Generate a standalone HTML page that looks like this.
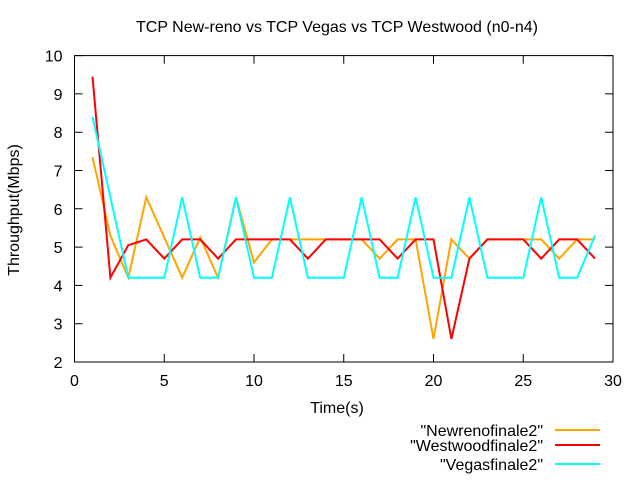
<!DOCTYPE html>
<html><head><meta charset="utf-8"><style>
body{margin:0;background:#fff}
svg{font-family:"Liberation Sans",sans-serif;font-size:16px}
</style></head><body>
<svg id="c" width="640" height="480">
<text x="337" y="32" text-anchor="middle">TCP New-reno vs TCP Vegas vs TCP Westwood (n0-n4)</text>
<text transform="translate(19,210) rotate(-90)" text-anchor="middle">Throughput(Mbps)</text>
<text x="337" y="413" text-anchor="middle">Time(s)</text>
<g id="axes"></g>
<g id="series"></g>
<g id="legend"></g>
</svg>
<script>
const xTicks=[0,5,10,15,20,25,30];
const yTicks=[2,3,4,5,6,7,8,9,10];
const times=[1,2,3,4,5,6,7,8,9,10,11,12,13,14,15,16,17,18,19,20,21,22,23,24,25,26,27,28,29];
const newreno=[7.35,5.3,4.2,6.3,5.25,4.2,5.25,4.2,6.3,4.6,5.2,5.2,5.2,5.2,5.2,5.2,4.7,5.2,5.2,2.6,5.2,4.7,5.2,5.2,5.2,5.2,4.7,5.2,5.2];
const westwood=[9.45,4.2,5.05,5.2,4.7,5.2,5.2,4.7,5.2,5.2,5.2,5.2,4.7,5.2,5.2,5.2,5.2,4.7,5.2,5.2,2.6,4.7,5.2,5.2,5.2,4.7,5.2,5.2,4.7];
const vegas=[8.4,6.3,4.2,4.2,4.2,6.3,4.2,4.2,6.3,4.2,4.2,6.3,4.2,4.2,4.2,6.3,4.2,4.2,6.3,4.2,4.2,6.3,4.2,4.2,4.2,6.3,4.2,4.2,5.3];
const seriesNames=['"Newrenofinale2"','"Westwoodfinale2"','"Vegasfinale2"'];
const L=74.5,R=613,T=55.6,B=362;
const xs=v=>L+(v-0)/(30-0)*(R-L);
const ys=v=>B-(v-2)/(10-2)*(B-T);
const NS="http://www.w3.org/2000/svg";
function mk(tag,attrs,parent){const e=document.createElementNS(NS,tag);for(const k in attrs)e.setAttribute(k,attrs[k]);parent.appendChild(e);return e;}
const ax=document.getElementById('axes');
const frame=mk('rect',{x:L,y:T,width:R-L,height:B-T,fill:'none',stroke:'#000','stroke-width':1},ax);


xTicks.forEach(t=>{
  const x=xs(t);
  const tk=mk('path',{d:`M${x},${B}v-8M${x},${T}v8`,stroke:'#000'},ax);
  
  
  const lb=mk('text',{x:x,y:B+24,'text-anchor':'middle'},ax);lb.textContent=t;
  
  
});
yTicks.forEach(t=>{
  const y=ys(t);
  const tk=mk('path',{d:`M${L},${y}h8M${R},${y}h-8`,stroke:'#000'},ax);
  
  
  const lb=mk('text',{x:L-12,y:y+6,'text-anchor':'end'},ax);lb.textContent=t;
  
  
});
const sg=document.getElementById('series');
const lg=document.getElementById('legend');
const data=[newreno,westwood,vegas];
const colors=['#ffa500','#ff0000','#00ffff'];
const keys=['newreno','westwood','vegas'];
const legY=[430,445,464];
data.forEach((d,i)=>{
  const pts=d.map((v,j)=>xs(times[j]).toFixed(1)+','+ys(v).toFixed(1)).join(' ');
  const pl=mk('polyline',{points:pts,fill:'none',stroke:colors[i],'stroke-width':2,'stroke-linejoin':'miter'},sg);
  
  
  const tx=mk('text',{x:543,y:legY[i]+6,'text-anchor':'end'},lg);tx.textContent=seriesNames[i];
  
  
  const ln=mk('line',{x1:555,x2:600,y1:legY[i],y2:legY[i],stroke:colors[i],'stroke-width':2},lg);
  
  
});
</script>
</body></html>
